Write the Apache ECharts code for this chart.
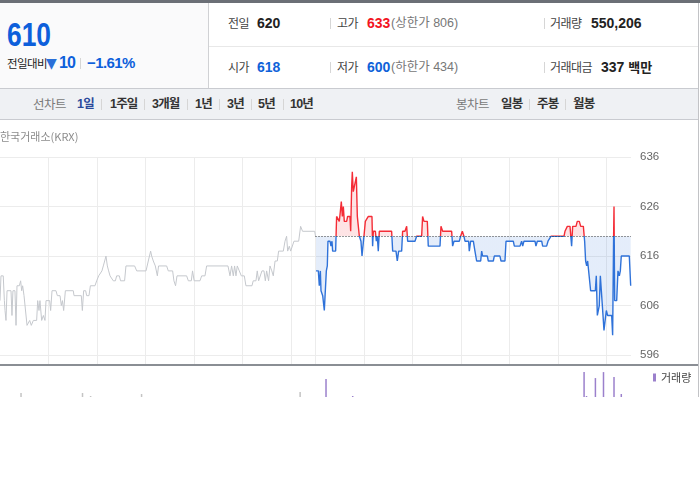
<!DOCTYPE html>
<html><head><meta charset="utf-8">
<script src="https://cdn.jsdelivr.net/npm/echarts@6/dist/echarts.min.js"></script>
<style>
html,body{margin:0;padding:0;background:#fff;}
body{width:700px;height:490px;position:relative;overflow:hidden;font-family:"Liberation Sans","Noto Sans CJK KR",sans-serif;}
.a{position:absolute;white-space:nowrap;}
.t{position:absolute;white-space:nowrap;height:20px;line-height:20px;}
.lb{font-size:12px;color:#444;letter-spacing:-0.5px;font-family:"Noto Sans CJK KR",sans-serif;}
.nb{font-size:14px;font-weight:bold;color:#222;}
.gr{font-size:12.5px;color:#777;}
.sep{position:absolute;width:1px;height:11px;background:#d6d6d6;}
.tb{font-size:12.5px;font-weight:bold;color:#333;letter-spacing:-0.8px;}
</style></head>
<body>
<div class="a" style="left:0;top:0;width:700px;height:3px;background:#6b6f76"></div>
<div class="a" style="left:0;top:3px;width:208px;height:85px;background:#fafafb;border-right:1px solid #d0d1d4"></div>
<div class="a" style="left:209px;top:46px;width:489px;height:1px;background:#e8e8e8"></div>
<div class="a" style="left:698px;top:3px;width:1px;height:394px;background:#c2c3c6;z-index:5"></div>
<div class="a" style="left:0;top:88px;width:698px;height:30px;background:#eff1f4;border-top:1px solid #c9cbd0;border-bottom:1px solid #c9cbd0"></div>

<div class="a" style="left:7px;top:15px;font:bold 33px/1.2 'Liberation Sans',sans-serif;color:#0d5fdb;transform:scaleX(0.8);transform-origin:0 0">610</div>
<div class="t" style="left:7px;top:53px;font-size:11.5px;color:#222;font-family:'Noto Sans CJK KR',sans-serif;letter-spacing:-0.6px">전일대비</div>
<div class="t" style="left:46px;top:53px;font-size:14px;color:#2a6fd8;font-family:'DejaVu Sans',sans-serif">▼</div>
<div class="t" style="left:59px;top:53px;font-size:16px;font-weight:bold;color:#0d5fdb;letter-spacing:-0.8px">10</div>
<div class="sep" style="left:80px;top:58px"></div>
<div class="t" style="left:87px;top:53px;font-size:15px;font-weight:bold;color:#0d5fdb;letter-spacing:-0.6px">−1.61%</div>

<div class="t lb" style="left:228px;top:13px">전일</div>
<div class="t nb" style="left:257px;top:13px">620</div>
<div class="sep" style="left:330px;top:18px"></div>
<div class="t lb" style="left:337px;top:13px">고가</div>
<div class="t nb" style="left:367px;top:13px;color:#f2151f">633</div>
<div class="t gr" style="left:391px;top:13px">(상한가 806)</div>
<div class="sep" style="left:544px;top:18px"></div>
<div class="t lb" style="left:550px;top:13px">거래량</div>
<div class="t nb" style="left:591px;top:13px">550,206</div>

<div class="t lb" style="left:228px;top:57px">시가</div>
<div class="t nb" style="left:257px;top:57px;color:#0f62d9">618</div>
<div class="sep" style="left:330px;top:62px"></div>
<div class="t lb" style="left:337px;top:57px">저가</div>
<div class="t nb" style="left:367px;top:57px;color:#0f62d9">600</div>
<div class="t gr" style="left:391px;top:57px">(하한가 434)</div>
<div class="sep" style="left:544px;top:62px"></div>
<div class="t lb" style="left:550px;top:57px">거래대금</div>
<div class="t nb" style="left:601px;top:57px">337 <span style="font-size:13px;font-family:'Noto Sans CJK KR',sans-serif">백만</span></div>

<div class="t" style="left:33px;top:94px;font-size:12.5px;color:#7a7a7a;font-family:'Noto Sans CJK KR',sans-serif;letter-spacing:-0.5px">선차트</div>
<div class="t tb" style="left:77px;top:94px;color:#2b4a9c">1일</div>
<div class="sep" style="left:101px;top:99px"></div>
<div class="t tb" style="left:110px;top:94px">1주일</div>
<div class="sep" style="left:144px;top:99px"></div>
<div class="t tb" style="left:152px;top:94px">3개월</div>
<div class="sep" style="left:187px;top:99px"></div>
<div class="t tb" style="left:195px;top:94px">1년</div>
<div class="sep" style="left:219px;top:99px"></div>
<div class="t tb" style="left:227px;top:94px">3년</div>
<div class="sep" style="left:251px;top:99px"></div>
<div class="t tb" style="left:258px;top:94px">5년</div>
<div class="sep" style="left:283px;top:99px"></div>
<div class="t tb" style="left:290px;top:94px">10년</div>
<div class="t" style="left:456px;top:94px;font-size:12.5px;color:#7a7a7a;font-family:'Noto Sans CJK KR',sans-serif;letter-spacing:-0.5px">봉차트</div>
<div class="t tb" style="left:501px;top:94px">일봉</div>
<div class="sep" style="left:529px;top:99px"></div>
<div class="t tb" style="left:537px;top:94px">주봉</div>
<div class="sep" style="left:565px;top:99px"></div>
<div class="t tb" style="left:573px;top:94px">월봉</div>

<div id="chart" class="a" style="left:0;top:120px;width:700px;height:370px"></div>
<div class="a" style="left:0;top:364px;width:698px;height:2px;background:#8a8e94;z-index:5"></div>

<script>
// previous session (minutes from 9:00) and prices
const prevT = [0,1.2,4,5.4,6.2,7.4,8.7,13.6,14.8,16,18.5,19.8,21,23.9,25.5,26.8,28,29.7,32,33.4,35.4,36.7,38.7,41.2,45.3,46.6,48.2,49.4,51.5,53.6,55.6,56.9,61.4,62.6,64.3,69.2,70.9,74.2,75.8,77.2,78.7,80.8,90.6,91.5,100.5,101.8,103.4,105.9,107.1,110,111.7,117.4,119.5,122,124.4,126,127.7,129.4,131,132.7,134.3,136,140,142.6,144.2,147.5,149,154,155.7,166.4,169,180.5,183.3,186.2,187.5,189.5,192,194.5,196,206,208,213.4,215,217,218.8,230.7,232.8,236.5,238,240,247.2,249.3,253.4,255.4,281.8,284.3,286.3,288.4,290,291.7,293.3,295.8,298.3,302,304,311.5,313,316.4,318,319.7,323.8,326.3,328,329.6,332,333.7,336,337.8,340,342.8,344.4,350.2,352.3,354.3,355.6,357.6,359.3,361.7,363.4,369.2,371.6,374,389,390];
const prevP = [607,612,612,607,605,603,609,609,604,609,609,602,610,610,611,609,610,608,608,602,602,603,602,603,603,607,605,607,603,604,603,607,607,605,609,609,608,608,606,607,605,609,609,608,608,605,609,609,608,608,610,610,611,612,612,613,614,615,616,614,613,612,611,611,612,612,611,611,614,614,613,613,615,617,616,615,614,612,614,614,613,613,611,610,612,612,611,611,613,611,611,612,612,614,614,612,614,612,614,612,614,613,612,612,610,610,611,611,613,611,613,613,611,613,611,614,613,612,615,615,617,617,619,620,617,618,617,617,619,619,622,621,621,620];
// today's session (minutes from 9:00) and prices
const todayT = [0.6,3.5,4.7,6,6.8,8,8.9,10.1,10.9,12.1,13.4,14.6,15.4,17.9,19.1,20.4,21.2,24.9,26.1,28.2,29.4,30.7,31.9,33.2,34.4,35.6,38.5,39.7,42.6,43.5,44.7,45.5,46.7,48,49.2,50.5,51.7,52.9,54.2,55.4,56.2,57.5,58.7,59.9,61.6,64,65.3,69.8,70.6,71.5,74,75.2,76.4,77.6,78.9,94.1,95.4,99.5,101.1,102.8,106.5,107.7,110.6,112.7,113.9,123,125,131.2,132.4,134.1,138.2,139.4,153.9,155.1,157.2,168.3,169.5,171.2,177.8,179.4,181.5,183.5,184.8,189.3,190.1,191.8,195.1,197.1,199.2,204.2,205.4,206.6,212.4,213.6,219.8,221,228,229.3,234.2,235.5,244.5,245.8,252.8,254.8,256.1,257.7,271.3,272.5,274.2,279.6,280.8,285.7,287.4,291.1,307.2,308.4,311.3,314.6,316.6,317.9,322,323.6,326.1,327.8,331.1,332.7,333.9,335.2,336.4,338.5,340.1,345.9,347.1,348.4,349.6,350.8,352.1,354.1,355.4,356.6,357.8,359.5,361.1,366.1,367.3,368.5,369,369.8,372.3,373.9,375.6,376.8,378,387.9,389.6];
const todayP = [613,613,610,613,609,609,608,608,605,605,613,614,619,619,618,619,617,617,624,624,623,625,627,624,626,623,623,624,624,621,630,633,629,630,630,632,624,624,620,620,619,616,616,620,623,623,624,624,618,621,621,619,620,617,621,621,617,617,615,617,617,621,621,622,619,619,620,620,624,623,623,618,618,622,621,621,618,619,619,620,621,620,619,619,617,619,619,617,615,615,617,616,616,615,615,616,616,615,615,619,619,618,618,619,618,619,619,618,619,619,618,618,619,620,620,621,622,622,618,622,622,623,623,622,622,619,615,614,615,615,609,609,612,604,604,606,612,612,604,601,601,605,604,604,600,620,626,607,607,613,612,613,616,616,610];
// volume bars
const prevVolT = [26,102,112,175,371];
const prevVol = [18000,18000,4500,13500,22500];
const todayVolT = [13,46,332,335,346,356,369,378];
const todayVol = [81000,4500,112500,4500,85500,112500,90000,13500];
// axis ticks
const priceTicks = [596,606,616,626,636];
const timeGrid = [60,120,180,240,300,360,390,450,510,570,630,690,750];
const prevClose = 620;
const todayOffset = 390;
const sessionEnd = 780;

const prevData = prevT.map((t,i)=>[t, prevP[i]]);
const todayData = todayT.map((t,i)=>[t+todayOffset, todayP[i]]);
const volData = prevVolT.map((t,i)=>({value:[t, prevVol[i]], itemStyle:{color:'#c4c4c4'}}))
  .concat(todayVolT.map((t,i)=>({value:[t+todayOffset, todayVol[i]]})));

const chart = echarts.init(document.getElementById('chart'));
chart.setOption({
  animation:false,
  title:{text:'한국거래소(KRX)', left:0, top:11, padding:0,
    textStyle:{fontSize:11, fontWeight:'normal', color:'#8c8c8c', fontFamily:'Noto Sans CJK KR'}},
  legend:{data:['거래량'], left:653, top:252, padding:0, itemWidth:3, itemHeight:8, icon:'rect',
    textStyle:{fontSize:11, color:'#444', fontFamily:'Noto Sans CJK KR'}},
  grid:[{left:0, top:37, width:631, height:208},{left:0, top:246, width:631, height:31}],
  xAxis:[
    {type:'value', gridIndex:0, min:0, max:sessionEnd, axisLine:{show:false},
     axisTick:{show:false, customValues:timeGrid}, axisLabel:{show:false},
     splitLine:{show:true, lineStyle:{color:'#ececec', width:1}}},
    {type:'value', gridIndex:1, min:0, max:sessionEnd, show:false}
  ],
  yAxis:[
    {type:'value', gridIndex:0, position:'right', min:594, max:636, axisLine:{show:false},
     axisTick:{show:false, customValues:priceTicks},
     axisLabel:{customValues:priceTicks, margin:9, color:'#666', fontSize:11.5, fontFamily:'Liberation Sans'},
     splitLine:{show:true, lineStyle:{color:'#ececec', width:1}}},
    {type:'value', gridIndex:1, min:0, max:140000, show:false}
  ],
  visualMap:{type:'piecewise', show:false, seriesIndex:1, dimension:1,
    pieces:[{gt:prevClose, lte:700, color:'#f42c36'},{gte:500, lte:prevClose, color:'#2f72d9'}]},
  series:[
    {type:'line', name:'prev', data:prevData, showSymbol:false, silent:true,
     lineStyle:{color:'#c5c8cd', width:1}, itemStyle:{color:'#c5c8cd'}},
    {type:'line', name:'today', data:todayData, showSymbol:false, silent:true,
     lineStyle:{width:1.4}, areaStyle:{origin:prevClose, opacity:0.13},
     markLine:{silent:true, symbol:['none','none'], label:{show:false},
       lineStyle:{color:'#333', type:[1,2], width:1, opacity:1},
       data:[[{coord:[todayOffset, prevClose]},{coord:[sessionEnd, prevClose]}]]}},
    {type:'bar', name:'거래량', xAxisIndex:1, yAxisIndex:1, data:volData, barWidth:1.5,
     itemStyle:{color:'#9b80cc'}}
  ]
});
</script>
</body></html>
